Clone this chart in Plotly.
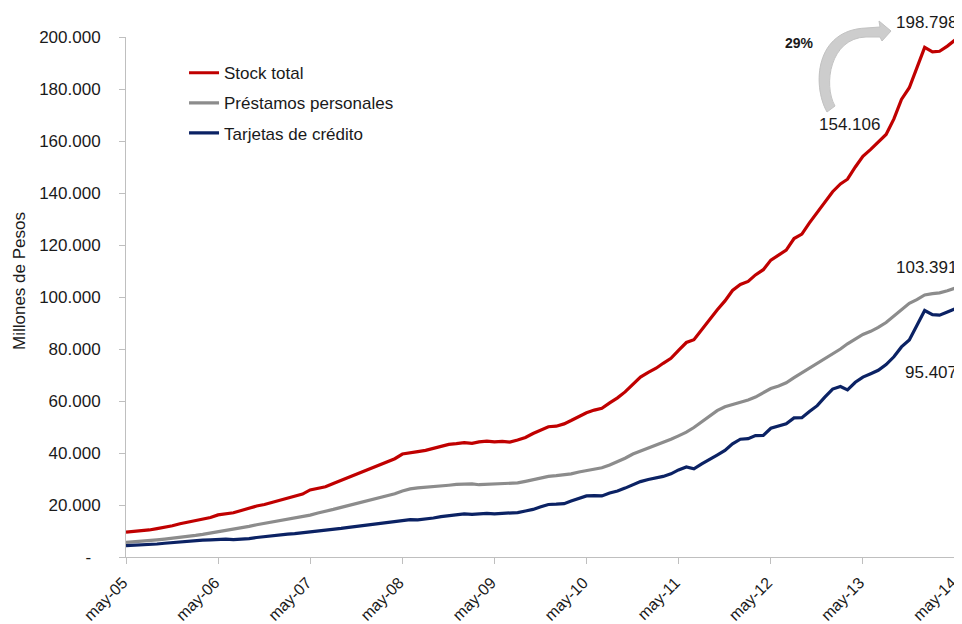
import pandas as pd
import plotly.graph_objects as go

# Monthly series, may-05 .. may-14 (values in thousands of millones de pesos)
stock_total = [
    9.6, 9.8, 10.0, 10.4, 10.9, 11.4, 12.0, 12.8, 13.4, 13.9, 14.5, 15.2,
    16.2, 16.6, 17.0, 17.9, 18.9, 19.6, 20.2, 21.0, 21.9, 22.5, 23.2, 24.2,
    25.8, 26.3, 27.0, 28.3, 29.5, 30.6, 31.6, 32.8, 34.1, 35.3, 36.6, 37.8,
    39.6, 40.2, 40.5, 41.0, 41.8, 42.8, 43.3, 43.6, 44.0, 43.7, 44.3, 44.6,
    44.3, 44.5, 44.2, 45.0, 46.0, 47.5, 48.8, 50.1, 50.3, 51.2, 52.5, 54.0,
    55.5, 56.5, 57.2, 59.3, 61.2, 63.5, 66.5, 69.2, 71.0, 72.6, 74.5, 76.4,
    79.5, 82.5, 83.6, 87.5, 91.0, 95.0, 98.5, 102.5, 104.8, 106.0, 108.5, 110.5,
    114.2, 116.0, 118.0, 122.5, 124.2, 128.5, 132.5, 136.5, 140.5, 143.5, 145.3, 150.0,
    154.106, 156.8, 159.5, 162.5, 168.5, 176.0, 180.5, 188.0, 196.0, 194.3, 194.5, 196.5,
    198.798,
]
prestamos = [
    5.6, 5.8, 6.0, 6.3, 6.6, 6.9, 7.2, 7.5, 7.9, 8.3, 8.7, 9.2,
    9.6, 10.1, 10.6, 11.2, 11.8, 12.4, 12.9, 13.4, 14.0, 14.6, 15.0, 15.5,
    16.1, 16.9, 17.5, 18.3, 19.1, 19.8, 20.5, 21.2, 22.0, 22.7, 23.5, 24.3,
    25.4, 26.2, 26.6, 26.8, 27.0, 27.3, 27.6, 27.9, 28.0, 28.1, 27.8, 27.9,
    28.0, 28.1, 28.2, 28.5, 29.1, 29.8, 30.5, 31.0, 31.3, 31.6, 32.0, 32.7,
    33.2, 33.5, 34.3, 35.4, 36.6, 38.0, 39.6, 40.7, 41.8, 43.0, 44.2, 45.3,
    46.6, 48.0, 49.8, 52.0, 54.2, 56.3, 57.8, 58.6, 59.5, 60.4, 61.5, 63.2,
    64.8, 65.8, 67.0, 69.0, 70.8, 72.7, 74.5, 76.2, 78.0, 80.0, 82.0, 84.0,
    85.6, 86.8, 88.3, 90.2, 92.8, 95.4, 97.6, 99.0, 100.8, 101.3, 101.6, 102.4,
    103.391,
]
tarjetas = [
    4.4, 4.5, 4.6, 4.8, 5.0, 5.3, 5.6, 5.9, 6.1, 6.3, 6.5, 6.6,
    6.8, 6.9, 6.7, 6.8, 7.1, 7.5, 7.9, 8.2, 8.5, 8.8, 9.0, 9.3,
    9.7, 10.0, 10.3, 10.6, 11.0, 11.4, 11.8, 12.2, 12.6, 13.0, 13.3, 13.6,
    14.2, 14.4, 14.3, 14.6, 15.0, 15.5, 15.9, 16.3, 16.6, 16.4, 16.6, 16.8,
    16.6, 16.8, 16.7, 17.1, 17.7, 18.3, 19.3, 20.2, 20.3, 20.5, 21.5, 22.5,
    23.5, 23.6, 23.5, 24.6, 25.4, 26.5, 27.8, 29.0, 29.8, 30.4, 31.0, 32.0,
    33.5, 34.6, 33.9, 35.8, 37.4, 39.2, 41.0, 43.5, 45.3, 45.5, 46.7, 46.8,
    49.5, 50.5, 51.2, 53.5, 53.6, 56.0, 58.2, 61.5, 64.6, 65.6, 64.3, 67.2,
    69.2, 70.5, 71.8, 74.0, 77.0, 80.8, 83.5, 89.0, 94.8, 93.2, 93.0, 94.2,
    95.407,
]
series_names = ["Stock total", "Préstamos personales", "Tarjetas de crédito"]
series_colors = ["#C00000", "#8C8C8C", "#0B2264"]

months = pd.date_range("2005-05-01", periods=len(stock_total), freq="MS")
x_tick_dates = pd.date_range("2005-05-01", "2014-05-01", freq="12MS")
x_tick_labels = ["may-05", "may-06", "may-07", "may-08", "may-09",
                 "may-10", "may-11", "may-12", "may-13", "may-14"]
y_tick_vals = [0, 20000, 40000, 60000, 80000, 100000, 120000, 140000, 160000, 180000, 200000]
y_tick_labels = ["-\u00a0\u00a0", "20.000", "40.000", "60.000", "80.000", "100.000",
                 "120.000", "140.000", "160.000", "180.000", "200.000"]

FONT = "Liberation Sans, Arial, sans-serif"
TXT = "#1a1a1a"

fig = go.Figure()
for name, vals, col in zip(series_names, [stock_total, prestamos, tarjetas], series_colors):
    fig.add_trace(go.Scatter(
        x=months, y=[v * 1000 for v in vals], mode="lines", name=name,
        legendgroup=name,
        line=dict(color=col, width=3.2),
    ))

# page body has an 8px margin; figure is sized/margined so the plot area sits at 126..955 x 37..557
OFF = 8
W, H = 962, 616
L, R, T, B = 126 - OFF, 15, 37 - OFF, 67
pw, ph = W - L - R, H - T - B


def px(xp, yp):
    # screen pixel -> paper coords
    return (xp - OFF - L) / pw, (H - B - (yp - OFF)) / ph


# curved arrow (decoration)
pts = {
    "a": px(827, 112), "c1": px(812, 85), "c2": px(815, 30), "b": px(866, 28),
    "hb1": px(880, 27), "ht": px(879, 21), "tip": px(891, 31), "hb": px(882, 41),
    "hb2": px(880, 37), "d": px(866, 37), "c3": px(830, 38), "c4": px(823, 85),
    "e": px(835, 106),
}
path = ("M {a[0]},{a[1]} C {c1[0]},{c1[1]} {c2[0]},{c2[1]} {b[0]},{b[1]} "
        "L {hb1[0]},{hb1[1]} L {ht[0]},{ht[1]} L {tip[0]},{tip[1]} L {hb[0]},{hb[1]} "
        "L {hb2[0]},{hb2[1]} L {d[0]},{d[1]} C {c3[0]},{c3[1]} {c4[0]},{c4[1]} {e[0]},{e[1]} Z").format(**pts)
fig.add_shape(type="path", xref="paper", yref="paper", path=path,
              fillcolor="#CDCDCD", line=dict(color="#C2C2C2", width=1), layer="below")

ann_font = dict(family=FONT, size=17, color=TXT)
fig.add_annotation(x=months[-1], y=stock_total[-1] * 1000, text="198.798", showarrow=False,
                   xanchor="right", yanchor="bottom", xshift=4, yshift=6, font=ann_font)
fig.add_annotation(x=months[96], y=stock_total[96] * 1000, text="154.106", showarrow=False,
                   xanchor="center", yanchor="bottom", xshift=-13, yshift=20, font=ann_font)
fig.add_annotation(x=months[-1], y=prestamos[-1] * 1000, text="103.391", showarrow=False,
                   xanchor="right", yanchor="bottom", xshift=4, yshift=9, font=ann_font)
fig.add_annotation(x=months[-1], y=tarjetas[-1] * 1000, text="95.407", showarrow=False,
                   xanchor="right", yanchor="top", xshift=4, yshift=-52, font=ann_font)
fig.add_annotation(x=px(799, 43)[0], y=px(799, 43)[1], xref="paper", yref="paper",
                   text="<b>29%</b>", showarrow=False, xanchor="center", yanchor="middle",
                   font=dict(family=FONT, size=14, color=TXT))
# y-axis title
fig.add_annotation(x=px(19, 281)[0], y=px(19, 281)[1], xref="paper", yref="paper",
                   text="Millones de Pesos", textangle=-90, showarrow=False,
                   xanchor="center", yanchor="middle", font=dict(family=FONT, size=17, color=TXT))

axis_col = "#BFBFBF"
x_end = months[-1] + pd.Timedelta(hours=6)
fig.update_layout(
    width=W, height=H,
    margin=dict(l=L, r=R, t=T, b=B, pad=0),
    paper_bgcolor="white", plot_bgcolor="white",
    font=dict(family=FONT, size=17, color=TXT),
    showlegend=True,
    legend=dict(x=0.07, y=0.965, xanchor="left", yanchor="top",
                bgcolor="rgba(0,0,0,0)", font=dict(family=FONT, size=17, color=TXT),
                traceorder="grouped", tracegroupgap=5, itemwidth=30),
    xaxis=dict(
        range=[months[0], x_end], tickvals=x_tick_dates,
        ticktext=[t + "\u00a0" for t in x_tick_labels],
        tickangle=-45, showgrid=False, zeroline=False, showline=True, linecolor=axis_col,
        linewidth=1, ticks="outside", ticklen=6, tickcolor=axis_col, automargin=False,
        ticklabeloverflow="allow",
        tickfont=dict(family=FONT, size=16, color=TXT),
    ),
    yaxis=dict(
        range=[0, 200000], tickvals=y_tick_vals, ticktext=y_tick_labels,
        showgrid=False, zeroline=False, showline=True, linecolor=axis_col, linewidth=1,
        ticks="outside", ticklen=6, tickcolor=axis_col, ticklabelstandoff=15, automargin=False,
        ticklabeloverflow="allow",
        tickfont=dict(family=FONT, size=17, color=TXT),
    ),
)

fig.write_html("out.html")
